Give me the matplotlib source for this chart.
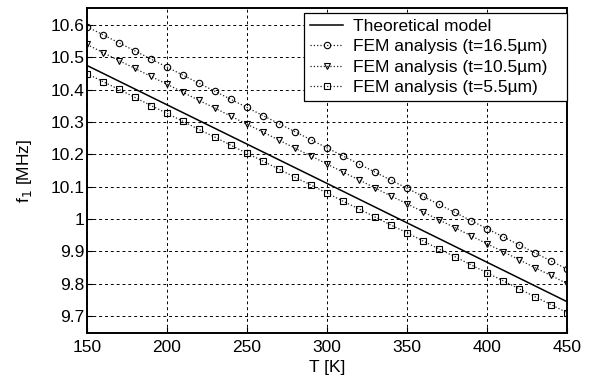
import matplotlib
matplotlib.use("Agg")
import matplotlib.pyplot as plt

plt.rcParams['font.family'] = ['Liberation Sans', 'DejaVu Sans']
plt.rcParams['font.size'] = 12.5

# temperature [K]
temps = [150, 160, 170, 180, 190, 200, 210, 220, 230, 240, 250,
         260, 270, 280, 290, 300, 310, 320, 330, 340, 350,
         360, 370, 380, 390, 400, 410, 420, 430, 440, 450]

theory_T = [150, 300, 450]
theory_f = [10.475, 10.110, 9.744]

fem_16 = [10.595, 10.570, 10.545, 10.520, 10.495, 10.470, 10.445, 10.420, 10.395, 10.370, 10.345,
          10.320, 10.295, 10.270, 10.245, 10.220, 10.195, 10.170, 10.145, 10.120, 10.095,
          10.070, 10.045, 10.020, 9.995, 9.970, 9.945, 9.920, 9.895, 9.870, 9.845]
fem_10 = [10.540, 10.515, 10.490, 10.466, 10.441, 10.417, 10.392, 10.367, 10.343, 10.318, 10.293,
          10.269, 10.244, 10.219, 10.195, 10.170, 10.145, 10.121, 10.096, 10.071, 10.047,
          10.022, 9.997, 9.973, 9.948, 9.923, 9.899, 9.874, 9.849, 9.825, 9.800]
fem_5 = [10.450, 10.425, 10.401, 10.376, 10.351, 10.327, 10.302, 10.277, 10.253, 10.228, 10.203,
         10.179, 10.154, 10.129, 10.105, 10.080, 10.055, 10.031, 10.006, 9.981, 9.957,
         9.932, 9.907, 9.883, 9.858, 9.833, 9.809, 9.784, 9.759, 9.735, 9.710]

yticks = [9.7, 9.8, 9.9, 10.0, 10.1, 10.2, 10.3, 10.4, 10.5, 10.6]
ytick_labels = ['9.7', '9.8', '9.9', '1', '10.1', '10.2', '10.3', '10.4', '10.5', '10.6']
xticks = [150, 200, 250, 300, 350, 400, 450]

fig = plt.figure(figsize=(5.89, 3.80), dpi=100)
ax = fig.add_axes([0.1477, 0.1237, 0.8149, 0.8553])

ax.plot(theory_T, theory_f, '-', color='black', lw=1.1, label='Theoretical model')
mk = dict(color='#222222', lw=0.9, linestyle=':', markerfacecolor='none',
          markeredgecolor='black', markersize=4.6, markeredgewidth=0.8)
ax.plot(temps, fem_16, marker='o', label='FEM analysis (t=16.5µm)', **mk)
ax.plot(temps, fem_10, marker='v', label='FEM analysis (t=10.5µm)', **mk)
ax.plot(temps, fem_5, marker='s', label='FEM analysis (t=5.5µm)', **mk)

ax.set_xlim(150, 450)
ax.set_ylim(9.647, 10.653)
ax.set_xticks(xticks)
ax.set_yticks(yticks)
ax.set_yticklabels(ytick_labels)
ax.tick_params(direction='in', length=4, width=0.8)
ax.tick_params(axis='y', pad=2)
ax.tick_params(axis='x', pad=5)
ax.grid(True, color='black', linestyle=(0, (3, 3)), lw=0.7)
for s in ax.spines.values():
    s.set_linewidth(1.4)

ax.set_xlabel('T [K]', labelpad=4)
ax.set_ylabel('f$_1$ [MHz]', labelpad=12)

leg = ax.legend(loc='upper left', bbox_to_anchor=(0.452, 0.72, 0.548, 0.2655),
                mode='expand', fancybox=False,
                framealpha=1, edgecolor='black', handlelength=1.9,
                borderpad=0.35, labelspacing=0.3, handletextpad=0.6, borderaxespad=0)
leg.get_frame().set_linewidth(0.9)

fig.savefig('out.png', dpi=100)
